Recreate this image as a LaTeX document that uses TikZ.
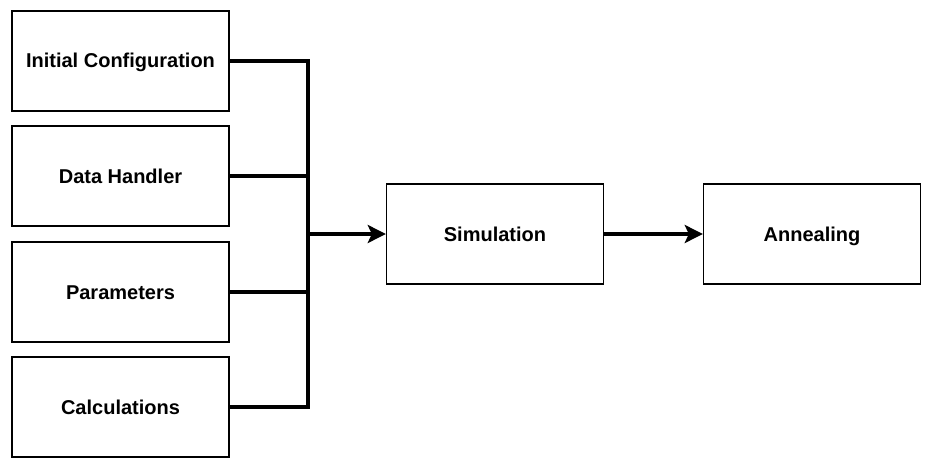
\documentclass[tikz,border=0pt]{standalone}
\usepackage{fontspec}
\setmainfont{Liberation Sans}
\usetikzlibrary{arrows.meta}

\tikzset{
  block/.style={draw, line width=1.4pt, minimum width=217pt, minimum height=100pt,
    inner sep=0pt, text height=16pt, text depth=2pt,
    font=\fontsize{20}{24}\selectfont\bfseries},
  link/.style={line width=3.3pt},
  flow/.style={line width=3.3pt, -{Stealth[length=18pt,width=18pt,inset=4pt]}}
}

\begin{document}
\begin{tikzpicture}[x=1pt, y=-1pt]
\useasboundingbox (0,0) rectangle (936,476);
% Inputs
\node[block] (init) at (120.5,61) {Initial Configuration};
\node[block] (data) at (120.5,176) {Data Handler};
\node[block] (param) at (120.5,292) {Parameters};
\node[block] (calc) at (120.5,407) {Calculations};
% Main chain
\node[block] (sim) at (495,234) {Simulation};
\node[block] (anneal) at (812,234) {Annealing};

% Bus into simulation
\coordinate (bus) at (308,234);
\draw[link] (init.east) -| (bus);
\draw[link] (data.east) -| (bus);
\draw[link] (param.east) -| (bus);
\draw[link] (calc.east) -| (bus);
\draw[flow] (bus) -- (sim.west);
\draw[flow] (sim.east) -- (anneal.west);
\end{tikzpicture}
\end{document}
